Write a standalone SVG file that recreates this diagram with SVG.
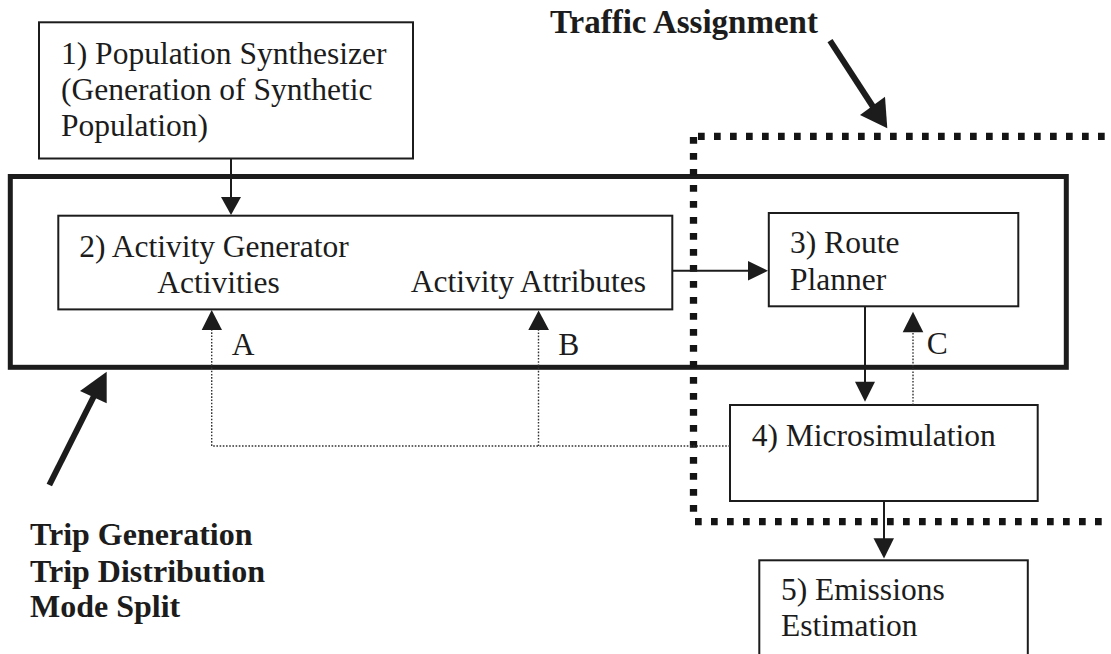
<svg xmlns="http://www.w3.org/2000/svg" width="1111" height="654" viewBox="0 0 1111 654">
  <defs>
    <style>
      .box { fill: #ffffff; stroke: #1c1c1c; stroke-width: 2; }
      .frame { fill: none; stroke: #1c1c1c; stroke-width: 5; }
      .zone { fill: none; stroke: #141414; stroke-width: 7.3; stroke-dasharray: 6.7 9.3; }
      .link { fill: none; stroke: #1c1c1c; stroke-width: 2; }
      .feedback { fill: none; stroke: #333333; stroke-width: 1.4; stroke-dasharray: 1.6 1.6; }
      .head { fill: #1c1c1c; stroke: none; }
      .pointer { fill: none; stroke: #1c1c1c; stroke-width: 6; }
      .t { font-family: "Liberation Serif", "Times New Roman", serif; font-size: 31.5px; fill: #1c1c1c; }
      .tb { font-family: "Liberation Serif", "Times New Roman", serif; font-size: 32px; font-weight: bold; fill: #1c1c1c; }
    </style>
  </defs>

  <rect width="1111" height="654" fill="#ffffff"/>

  <!-- Outer frame: trip generation / distribution / mode split -->
  <g id="demand-frame">
    <rect class="frame" x="10.3" y="176.5" width="1056" height="190.8"/>
  </g>

  <!-- Dashed region: traffic assignment -->
  <g id="assignment-zone">
    <path class="zone" d="M693.5 137 V518"/>
    <path class="zone" d="M698 136.3 H1111"/>
    <path class="zone" d="M695 521.7 H1111"/>
  </g>

  <g id="node-population">
    <rect class="box" x="39" y="22.3" width="374" height="136.2"/>
    <text class="t" x="61" y="63.5">1) Population Synthesizer</text>
    <text class="t" x="61" y="99.5">(Generation of Synthetic</text>
    <text class="t" x="61" y="136">Population)</text>
  </g>

  <g id="node-activity">
    <rect class="box" x="58.3" y="215.7" width="614" height="93.7"/>
    <text class="t" x="79.3" y="256.7">2) Activity Generator</text>
    <text class="t" x="157.3" y="292.7">Activities</text>
    <text class="t" x="410.7" y="291.7">Activity Attributes</text>
  </g>

  <g id="node-route">
    <rect class="box" x="768.8" y="213" width="249.5" height="93.3"/>
    <text class="t" x="790" y="253.3">3) Route</text>
    <text class="t" x="790" y="290">Planner</text>
  </g>

  <g id="node-micro">
    <rect class="box" x="730" y="405" width="307.7" height="96"/>
    <text class="t" x="751.7" y="445.7">4) Microsimulation</text>
  </g>

  <g id="node-emissions">
    <rect class="box" x="759.3" y="560.3" width="268.5" height="100"/>
    <text class="t" x="781" y="600">5) Emissions</text>
    <text class="t" x="781" y="635.7">Estimation</text>
  </g>

  <g id="connectors">
    <!-- 1 -> 2 -->
    <path class="link" d="M231 158.5 V198"/>
    <polygon class="head" points="221,197 241,197 231,215"/>
    <!-- 2 -> 3 -->
    <path class="link" d="M672.3 270.7 H749"/>
    <polygon class="head" points="748,261 748,280.5 768,270.7"/>
    <!-- 3 -> 4 -->
    <path class="link" d="M865 306.3 V383"/>
    <polygon class="head" points="855,381.7 875,381.7 865,401.7"/>
    <!-- 4 -> 5 -->
    <path class="link" d="M884 501 V539"/>
    <polygon class="head" points="873.5,538.3 894,538.3 884,558.5"/>

    <!-- feedback A and B -->
    <path class="feedback" d="M730 446 H211.7 V330"/>
    <polygon class="head" points="201.7,330 222,330 211.7,310"/>
    <path class="feedback" d="M538.5 446 V330"/>
    <polygon class="head" points="528.3,330 549,330 538.6,310.5"/>
    <!-- feedback C -->
    <path class="feedback" d="M913 405 V332"/>
    <polygon class="head" points="902.7,332.3 923.3,332.3 913,311.7"/>
    <text class="t" x="231.7" y="355">A</text>
    <text class="t" x="558.3" y="355">B</text>
    <text class="t" x="926.7" y="354.3">C</text>

    <!-- label pointers -->
    <path class="pointer" d="M830 40.7 L873.5 107.5"/>
    <polygon class="head" points="860,115 885,96.7 887.3,128.3"/>
    <path class="pointer" d="M49.3 485 L94.5 395"/>
    <polygon class="head" points="106.7,371.7 80,391 106.7,403.3"/>
  </g>

  <g id="labels">
    <text class="tb" x="550" y="33.3" style="font-size:33px">Traffic Assignment</text>
    <text class="tb" x="30" y="545">Trip Generation</text>
    <text class="tb" x="30" y="581.7">Trip Distribution</text>
    <text class="tb" x="30" y="616.7">Mode Split</text>
  </g>
</svg>
